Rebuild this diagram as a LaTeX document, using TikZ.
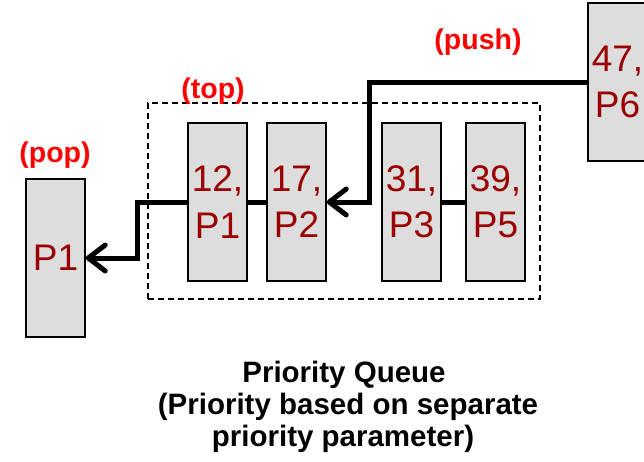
\documentclass[tikz,border=0pt]{standalone}
\usepackage{fontspec}
\setmainfont{Liberation Sans}
\usetikzlibrary{arrows.meta}
\definecolor{boxfill}{HTML}{DDDDDD}
\definecolor{boxtext}{HTML}{990000}
\definecolor{lblred}{HTML}{FF0000}
\begin{document}
\begin{tikzpicture}[x=1pt,y=-1pt,
  elem/.style={draw=black, line width=1.5pt, fill=boxfill, minimum width=59pt, minimum height=158pt,
    inner sep=0pt, align=center, text=boxtext, font=\fontsize{37}{46.5}\selectfont},
  oplabel/.style={text=lblred, font=\fontsize{28.5}{30}\selectfont\bfseries, inner sep=0pt},
  capline/.style={font=\fontsize{29.5}{32}\selectfont\bfseries, inner sep=0pt},
  link/.style={line width=5pt},
  arr/.style={line width=5pt, -{Straight Barb[length=17pt,width=26pt,line cap=round,line join=round]}}]
\useasboundingbox (0,0) rectangle (644,461);
% dashed queue boundary
\node[draw, dash pattern=on 6pt off 4pt, line width=1.6pt, minimum width=392pt, minimum height=196pt, inner sep=0pt] (queue) at (344,201) {};
% elements
\node[elem] (e1) at (217.5,202) {12,\\P1};
\node[elem] (e2) at (296.5,202) {17,\\P2};
\node[elem] (e3) at (411.5,202) {31,\\P3};
\node[elem] (e5) at (495.5,202) {39,\\P5};
\node[elem] (e6) at (617.5,82) {47,\\P6};
\node[elem] (out) at (55.5,258) {P1};
% labels
\node[oplabel] (lpop) at (55,155) {(pop)};
\node[oplabel] (ltop) at (213,91) {(top)};
\node[oplabel] (lpush) at (478,42) {(push)};
% links
\draw[link] (e1.east) -- (e2.west);
\draw[link] (e3.east) -- (e5.west);
\coordinate (pushbend) at (369,202);
\coordinate (popbend) at (137,258);
\draw[arr] (e6.west) -| (pushbend) -- (e2.east);
\draw[arr] (e1.west) -| (popbend) -- (out.east);
% caption
\node[capline] (cap1) at (344,375) {Priority Queue};
\node[capline] (cap2) at (348,407) {(Priority based on separate};
\node[capline] (cap3) at (343,439) {priority parameter)};
\end{tikzpicture}
\end{document}
